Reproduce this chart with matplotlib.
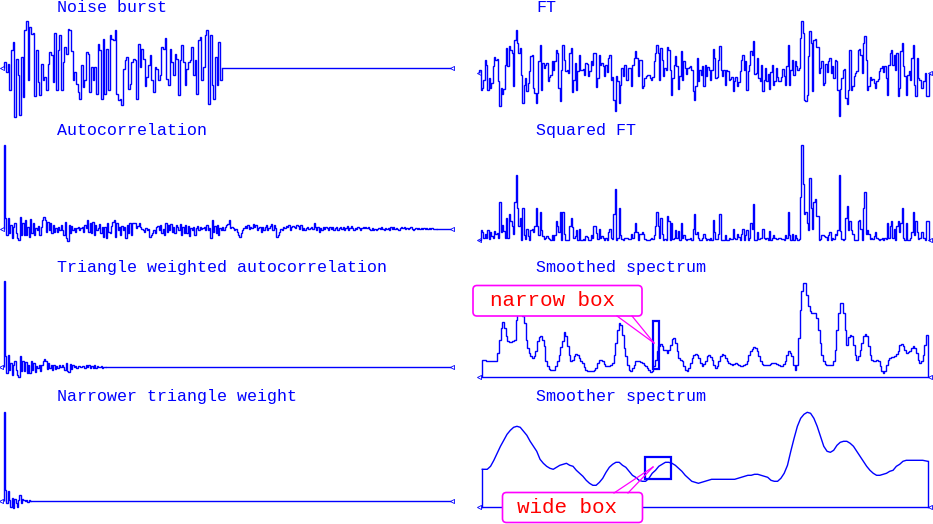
import numpy as np
import matplotlib
matplotlib.use("Agg")
import matplotlib.pyplot as plt
from matplotlib.patches import Rectangle, FancyBboxPatch

# ---------------- data (amplitudes) ----------------
noise_burst = [6,-4,4,-22,18,26,-49,9,-7,-47, 11,-29,38,47,-12,41,34,35,-28,18,
               -14,-27,4,-12,-9,-22,4,16,13,-14, 35,-22,18,33,-22,6,21,14,39,38,
               17,-12,-4,-16,-24,-31,3,-19,-12,16, 14,-24,1,-12,1,-26,24,18,-31,29,
               -26,19,-22,33,29,28,38,-26,-32,-31, -37,-1,8,11,-21,-16,6,9,8,-31,
               24,1,19,9,-18,-9,3,13,-12,-24, 1,-1,-12,-7,21,19,30,-11,-17,19,
               6,-7,14,9,-27,8,23,6,-17,-1, 6,8,21,-7,8,-26,28,31,-12,1,
               33,38,-36,33,-17,-31,11,-17,26,-12]

ft = [3,-17,-15,-7,13,8,-17,-5,-15,-10,7,16,13,14,-8,-33,-15,-21,-16,8,25,7,27,23,20,-13,33,43,30,20,
      25,-2,-30,-12,-5,-18,-10,2,17,18,-15,-20,-30,-20,12,28,-17,10,5,8,10,-8,-4,-2,12,3,12,23,20,-15,
      -28,3,28,13,2,3,0,20,25,-19,-7,10,-17,2,18,3,3,4,-2,10,9,-3,2,12,8,20,20,-14,-5,18,
      8,10,7,-3,8,1,15,18,-7,-4,-27,-38,-3,-8,-30,-12,5,-3,8,-7,-7,5,5,-13,8,15,22,15,-3,13,
      13,-15,-13,-5,-3,-2,-2,-5,-7,-4,12,20,28,20,-7,25,13,-3,5,3,26,23,3,-22,-5,8,17,7,-16,-3,
      22,-7,12,5,-1,5,6,7,3,-18,-27,-13,15,-8,3,-2,7,-13,8,-3,6,3,-7,3,24,15,-5,-4,13,27,
      3,-3,3,-12,3,2,-7,-6,-4,-18,-8,-4,-13,-9,2,13,18,3,12,-17,2,8,22,18,32,-1,0,15,-5,-8,
      8,-18,-7,5,-8,-1,-16,1,8,-12,-8,5,-4,-8,-8,-4,4,-3,-12,7,28,-12,3,13,-2,12,7,3,5,35,
      52,40,-27,-28,-22,17,42,30,-18,33,34,26,26,0,5,12,-12,-10,9,1,12,15,0,7,-5,13,12,-17,-43,-16,
      -5,3,4,-25,-31,-17,23,-17,-13,-3,0,2,23,24,18,0,30,37,13,-17,-13,-4,-7,-6,-10,-15,-8,-6,2,5,
      7,1,7,-5,-22,8,20,23,8,18,3,20,-23,-15,22,30,7,-3,-22,-2,2,-7,15,28,-12,-23,15,-5,-7,-15,
      -15,-8,0,-23,-23,-1]

autocorrelation = [84,11,-6,11,-4,4,-9,2,6,-4,-9,-11,12,-6,6,-6,9,-6,2,-8,10,-4,6,-6,1,-1,3,-6,2,9,
    12,9,-3,7,-1,6,-4,4,-3,1,-3,2,-1,4,-1,-6,7,-9,-12,4,-4,3,-1,1,-3,1,2,-1,1,2,
    -3,4,1,9,-3,6,-4,7,-6,4,-1,1,5,-4,2,-8,2,-9,6,-3,-4,3,7,9,-8,6,-1,2,-6,3,
    -1,2,-9,4,-4,6,-6,6,6,6,1,3,6,2,0,-1,-3,1,-1,0,-8,-6,-4,-1,-4,2,3,-1,4,-4,
    0,-6,6,-3,4,-1,5,-3,2,-4,4,2,-1,5,-6,2,-4,4,-4,3,-7,1,-1,2,-6,1,3,-1,2,0,
    1,2,-1,4,-1,1,-9,9,-3,3,-4,4,-6,1,-1,2,-1,2,4,5,9,1,2,1,-1,0,-3,-6,-8,-4,
    -1,1,3,1,4,0,2,1,5,2,4,-1,1,2,-3,2,-1,2,4,-1,1,3,5,-1,4,1,-8,-6,-3,0,
    -1,2,1,3,2,4,-1,2,3,2,1,4,3,0,4,-1,1,-1,1,2,0,1,2,0,6,2,-1,2,-3,1,
    -1,2,0,2,1,-1,2,0,2,-1,1,2,-1,1,2,0,2,-1,1,3,-1,1,3,1,-1,1,0,2,1,-1,
    1,2,1,2,1,2,0,-1,1,-1,0,-1,0,1,0,2,0,-1,1,0,1,-1,2,0,2,0,1,0,-1,1,
    2,1,2,0,1,0,1,2,0,-1,0,1,0,1,0,1,0,1,0,1,0,1,0,1,0,0,0]

triangle_weighted = [86,11,-6,12,-3,4,-8,2,6,-3,-8,-10,11,-4,6,-4,5,-6,2,-6,6,-3,4,-5,1,-1,2,-4,2,6,
    8,6,-2,4,-1,2,-3,2,-2,1,-1,2,0,2,0,-3,4,-4,-5,3,-2,2,0,1,-1,1,1,0,1,1,
    -1,2,0,2,-1,1,-1,2,-1,1,0,0,1,-1,0,0]

narrower_weighted = [89,11,-2,10,1,-6,3,-7,2,-2,-6,1,6,-2,2,1,0,1,-1,1,0]

smoothed_spectrum = [17,17,16,16,16,16,16,16,16,24,37,49,55,49,41,36,35,35,36,37,
    57,66,68,69,61,54,37,29,24,21,19,21,26,36,40,41,37,31,16,11,
    8,7,7,7,11,16,22,30,36,45,41,31,22,16,17,21,23,22,19,16,
    14,10,7,6,6,6,6,7,9,14,17,17,16,13,11,11,11,12,14,22,
    34,47,54,52,42,29,21,12,7,6,9,12,16,16,16,15,14,12,11,9,
    7,5,6,11,17,26,31,33,31,27,27,24,27,32,38,39,34,26,19,17,
    16,11,7,6,9,14,19,22,23,22,19,14,11,13,16,21,22,20,17,12,
    9,11,16,21,23,22,19,16,14,13,12,13,14,13,12,11,11,12,13,16,
    22,26,28,30,29,26,21,16,13,12,12,12,12,13,14,14,14,13,12,11,
    11,13,16,22,26,24,21,12,7,12,39,67,86,94,94,82,71,66,64,64,
    64,59,47,34,22,16,13,12,12,12,12,16,27,47,64,74,74,64,47,32,
    40,42,41,32,22,17,21,27,34,41,43,41,31,22,17,16,16,17,16,11,
    6,4,6,12,17,19,20,20,21,23,26,32,33,31,27,24,25,26,29,31,
    29,24,17,14,16,22,32,42]

smoother_spectrum = [38,38,41,47,54,61,67,73,77,80, 81,80,76,72,66,61,56,48,44,41,
    39,38,40,42,43,44,42,41,37,34, 31,27,24,22,22,25,29,35,40,43,
    45,45,42,40,36,32,30,27,26,26, 29,34,37,41,43,45,45,44,42,39,
    36,32,29,26,25,24,25,26,27,28, 28,28,28,28,28,28,28,29,30,31,
    32,32,33,33,32,31,30,27,26,26, 29,34,42,56,69,81,89,93,95,94,
    89,81,71,61,56,55,57,62,65,66, 66,64,61,56,51,46,41,37,34,32,
    32,33,34,36,37,41,43,46,47,47, 47,47,47,47,46]

titles_left = ["Noise burst", "Autocorrelation", "Triangle weighted autocorrelation",
               "Narrower triangle weight"]
titles_right = ["FT", "Squared FT", "Smoothed spectrum", "Smoother spectrum"]
callout_labels = ["narrow box", "wide box"]

# ---------------- layout / style ----------------
W, H = 933, 524
BLUE, MAG, RED = "#0000ff", "#ff00ff", "#ff0000"
LW = 1.0
fig = plt.figure(figsize=(W / 100, H / 100), dpi=100)


def trace_axes(px0, px1, base, first_c, last_c, n, yscale=1.0):
    sp = (last_c - first_c) / (n - 1)
    top, bot = base - 115, base + 60
    ax = fig.add_axes([px0 / W, 1 - bot / H, (px1 - px0) / W, (bot - top) / H])
    ax.set_xlim((px0 - first_c) / sp, (px1 - first_c) / sp)
    ax.set_ylim(-(bot - base) * yscale, (base - top) * yscale)
    ax.set_axis_off()
    ax.patch.set_alpha(0)
    return ax, sp


def draw_steps(ax, vals):
    v = np.asarray(vals, dtype=float)
    ax.stairs(v, np.arange(len(v) + 1) - 0.5, baseline=0, color=BLUE, lw=LW, clip_on=False)
    return len(v)


def end_marks(ax, first_c, sp, pxs):
    ax.plot([(p - first_c) / sp for p in pxs], [0] * len(pxs), ls="none", marker="<",
            ms=3, mfc="none", mec=BLUE, mew=0.6, clip_on=False)


def left_trace(vals, base, first_c, last_c, end_px=450):
    ax, sp = trace_axes(0, 460, base, first_c, last_c, len(vals))
    n = draw_steps(ax, vals)
    ax.plot([n - 0.5, (end_px - first_c) / sp], [0, 0], color=BLUE, lw=LW, clip_on=False)
    end_marks(ax, first_c, sp, [1.5, 452])


left_trace(noise_burst, 67.7, 5.0, 220.7)
left_trace(autocorrelation, 229.0, 4.3, 436.0)
left_trace(triangle_weighted, 367.3, 4.3, 105.3)
left_trace(narrower_weighted, 501.0, 4.3, 30.7)

# FT
ft_arr = np.asarray(ft, dtype=float)
ax, sp = trace_axes(470, 933, 73.3, 480.0, 929.3, len(ft_arr))
draw_steps(ax, ft_arr)
end_marks(ax, 480.0, sp, [479, 930])

# Squared FT
ax, sp = trace_axes(470, 933, 240.0, 480.0, 929.3, len(ft_arr), yscale=52 ** 2 / 95)
draw_steps(ax, ft_arr ** 2)
end_marks(ax, 480.0, sp, [479, 930])


def spectrum(vals, base, e0, e1, steps=True):
    n = len(vals)
    sp = (e1 - e0) / n
    ax, sp = trace_axes(470, 933, base, e0 + sp / 2, e1 - sp / 2, n)
    if steps:
        draw_steps(ax, vals)
    else:
        v = np.asarray(vals, dtype=float)
        x = np.arange(n, dtype=float)
        x[0], x[-1] = -0.5, n - 0.5
        ax.plot(x, v, color=BLUE, lw=LW, clip_on=False)
        ax.plot([x[0], x[0]], [0, v[0]], color=BLUE, lw=LW, clip_on=False)
        ax.plot([x[-1], x[-1]], [0, v[-1]], color=BLUE, lw=LW, clip_on=False)
    ax.plot([-0.5, n - 0.5], [0, 0], color=BLUE, lw=LW, clip_on=False)
    end_marks(ax, e0 + sp / 2, sp, [479, 930])


spectrum(smoothed_spectrum, 377.3, 482.3, 927.7)
spectrum(smoother_spectrum, 507.3, 482.3, 927.7, steps=False)

# ---------------- overlay: titles and callouts ----------------
ov = fig.add_axes([0, 0, 1, 1])
ov.set_xlim(0, W)
ov.set_ylim(H, 0)
ov.set_axis_off()
ov.patch.set_alpha(0)

tfont = dict(family="Liberation Mono", size=12, color=BLUE, va="baseline", ha="left")
for t, yb in zip(titles_left, [12, 135, 272, 401]):
    ov.text(57, yb, t, **tfont)
for t, yb in zip(titles_right, [12, 135, 272, 401]):
    ov.text(536, yb, t, **tfont)

# blue boxes marking the smoothing windows
ov.add_patch(Rectangle((652.5, 321), 6.5, 48, fill=False, ec=BLUE, lw=1.6))
ov.add_patch(Rectangle((644.5, 456.5), 26, 22.5, fill=False, ec=BLUE, lw=1.6))

# narrow box callout
ov.plot([617, 654], [316, 343], color=MAG, lw=0.9)
ov.plot([632, 654], [316, 343], color=MAG, lw=0.9)
ov.add_patch(FancyBboxPatch((473, 285.5), 169, 30.5, boxstyle="round,pad=0,rounding_size=4",
                            fc="white", ec=MAG, lw=1.2))
ov.text(553, 306, callout_labels[0], family="Liberation Mono", size=15, color=RED,
        ha="center", va="baseline")

# wide box callout
ov.plot([614, 653], [493, 467], color=MAG, lw=0.9)
ov.plot([628, 653], [493, 467], color=MAG, lw=0.9)
ov.add_patch(FancyBboxPatch((502.5, 492.5), 140, 30, boxstyle="round,pad=0,rounding_size=4",
                            fc="white", ec=MAG, lw=1.2))
ov.text(567, 513, callout_labels[1], family="Liberation Mono", size=15, color=RED,
        ha="center", va="baseline")

fig.savefig("out.png", dpi=100)
